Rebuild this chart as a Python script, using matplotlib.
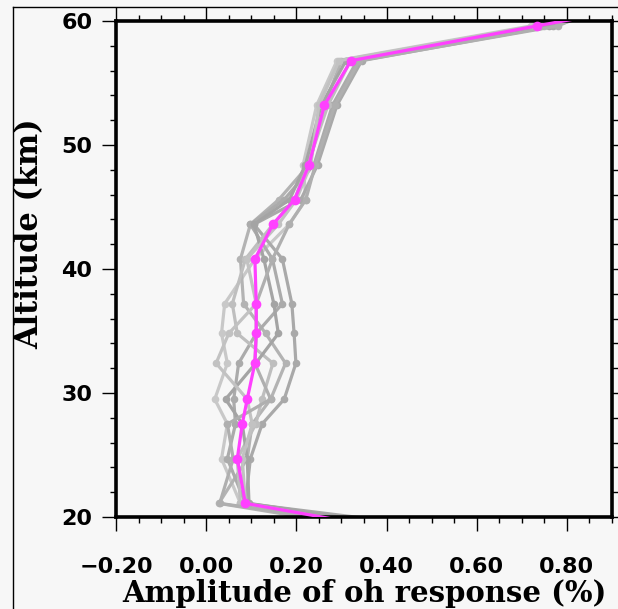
import matplotlib
matplotlib.use("Agg")
import matplotlib.pyplot as plt
from matplotlib.ticker import MultipleLocator, FixedLocator, FuncFormatter
from matplotlib.lines import Line2D

# Model levels (km); the first and last lie just outside the plotted range
altitude = [61.0, 59.6, 56.8, 53.2, 48.4, 45.6, 43.6, 40.8, 37.2,
            34.8, 32.4, 29.5, 27.5, 24.7, 21.1, 19.0]

# Individual ensemble members: OH response amplitude (%)
member_1 = [0.84, 0.72, 0.290, 0.245, 0.215, 0.221, 0.184, 0.108, 0.041,
            0.034, 0.047, 0.019, 0.047, 0.034, 0.076, 0.46]
member_2 = [0.90, 0.77, 0.345, 0.290, 0.247, 0.210, 0.106, 0.169, 0.190,
            0.195, 0.199, 0.173, 0.124, 0.098, 0.087, 0.55]
member_3 = [0.86, 0.74, 0.300, 0.262, 0.228, 0.161, 0.098, 0.076, 0.083,
            0.132, 0.176, 0.143, 0.102, 0.091, 0.028, 0.38]
member_4 = [0.88, 0.73, 0.335, 0.280, 0.239, 0.173, 0.098, 0.147, 0.169,
            0.111, 0.072, 0.061, 0.065, 0.047, 0.087, 0.50]
member_5 = [0.92, 0.75, 0.320, 0.270, 0.225, 0.196, 0.148, 0.087, 0.058,
            0.069, 0.148, 0.124, 0.110, 0.069, 0.076, 0.42]
member_6 = [0.89, 0.76, 0.310, 0.255, 0.220, 0.185, 0.106, 0.128, 0.150,
            0.160, 0.110, 0.043, 0.080, 0.091, 0.095, 0.48]
member_7 = [0.85, 0.73, 0.295, 0.250, 0.232, 0.200, 0.160, 0.090, 0.111,
            0.050, 0.022, 0.091, 0.102, 0.080, 0.087, 0.40]
member_8 = [0.87, 0.78, 0.340, 0.285, 0.242, 0.221, 0.184, 0.147, 0.111,
            0.111, 0.108, 0.143, 0.047, 0.060, 0.030, 0.44]

members = [member_1, member_2, member_3, member_4,
           member_5, member_6, member_7, member_8]
member_colors = ["#c8c8c8", "#a9a9a9", "#b3b3b3", "#ababab",
                 "#bebebe", "#a4a4a4", "#c2c2c2", "#afafaf"]

# Ensemble mean
mean_response = [0.94, 0.733, 0.321, 0.262, 0.228, 0.196, 0.148, 0.108, 0.111,
                 0.111, 0.108, 0.091, 0.080, 0.069, 0.087, 0.41]

x_ticks = [-0.2, 0.0, 0.2, 0.4, 0.6, 0.8]
y_ticks = [20, 30, 40, 50, 60]

bg = "#f7f7f7"
W, H = 618, 609
fig = plt.figure(figsize=(W / 100, H / 100), dpi=100, facecolor=bg)
ax = fig.add_axes([116 / W, 1 - 517 / H, (612 - 116) / W, (517 - 21) / H])
ax.set_facecolor(bg)

for vals, col in zip(members, member_colors):
    ax.plot(vals, altitude, color=col, lw=2.3, marker="o", ms=5.5,
            markeredgewidth=0, solid_capstyle="round", solid_joinstyle="round")

ax.plot(mean_response, altitude, color="#ff40ff", lw=2.3, marker="o", ms=7,
        markeredgewidth=0, zorder=5, solid_joinstyle="round")

ax.set_xlim(-0.2, 0.9)
ax.set_ylim(20, 60)

ax.xaxis.set_major_locator(FixedLocator(x_ticks))
ax.xaxis.set_minor_locator(MultipleLocator(0.05))
ax.yaxis.set_major_locator(FixedLocator(y_ticks))
ax.yaxis.set_minor_locator(MultipleLocator(2))
ax.xaxis.set_major_formatter(
    FuncFormatter(lambda v, _: f"{v:.2f}".replace("-", "\u2212")))
ax.yaxis.set_major_formatter(FuncFormatter(lambda v, _: f"{v:.0f}"))

ax.tick_params(which="both", direction="out", top=True, right=True,
               color="black", width=1.0)
ax.tick_params(which="major", length=10)
ax.tick_params(which="minor", length=4.5)
ax.tick_params(axis="x", which="major", pad=19)
ax.tick_params(axis="y", which="major", pad=7)

for lab in ax.get_xticklabels() + ax.get_yticklabels():
    lab.set_fontfamily("DejaVu Sans")
    lab.set_fontweight("bold")
    lab.set_fontsize(16)

for sp in ax.spines.values():
    sp.set_linewidth(2.6)
    sp.set_color("black")

fig.text(364 / W, 1 - 593 / H, "Amplitude of oh response (%)",
         ha="center", va="center", fontsize=21, fontweight="bold",
         family="DejaVu Serif")
fig.text(30 / W, 1 - 234 / H, "Altitude (km)", rotation=90,
         ha="center", va="center", fontsize=22, fontweight="bold",
         family="DejaVu Serif")

# Panel frame
fig.add_artist(Line2D([13 / W, 13 / W], [0, 1 - 7 / H],
                      transform=fig.transFigure, color="black", lw=1))
fig.add_artist(Line2D([13 / W, 1], [1 - 7 / H, 1 - 7 / H],
                      transform=fig.transFigure, color="black", lw=1))

fig.savefig("out.png", dpi=100, facecolor=bg)
